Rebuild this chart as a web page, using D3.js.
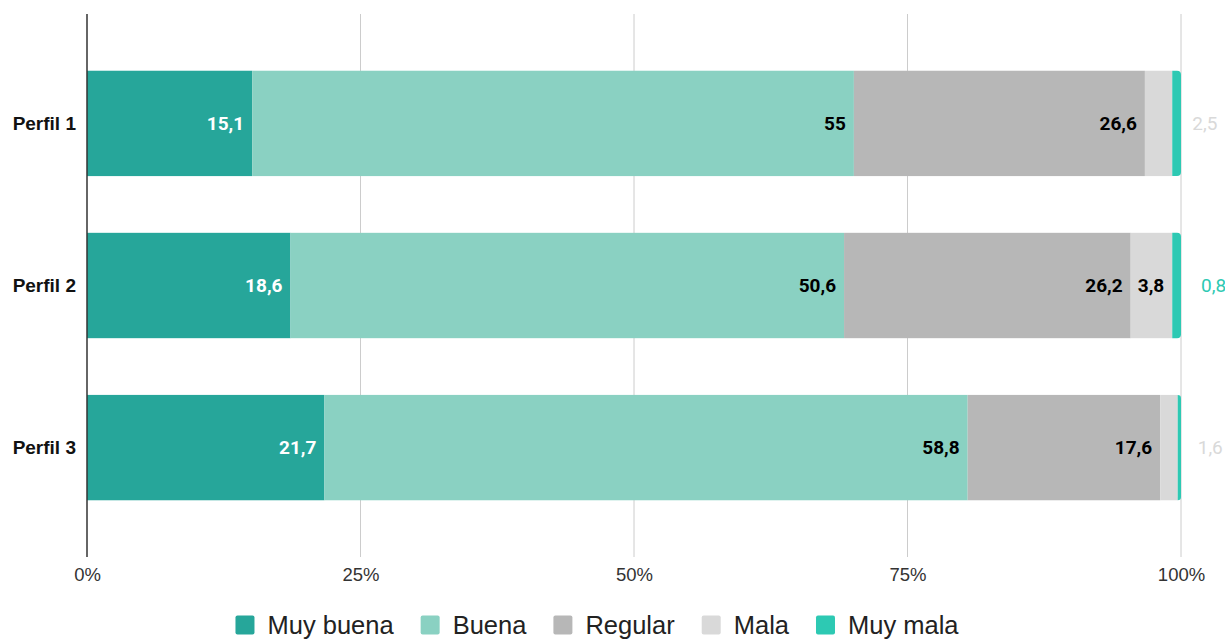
<!DOCTYPE html>
<html>
<head>
<meta charset="utf-8">
<script src="https://cdn.jsdelivr.net/npm/d3@7"></script>
<style>
  html, body { margin: 0; padding: 0; background: #fff; }
  svg { display: block; font-family: "Liberation Sans", Arial, sans-serif; }
</style>
</head>
<body>
<svg id="chart" width="1225" height="639"></svg>
<script>
// Perfiles and rating shares (%)
const categories = ["Perfil 1", "Perfil 2", "Perfil 3"];
const seriesNames = ["Muy buena", "Buena", "Regular", "Mala", "Muy mala"];
const muyBuena = [15.1, 18.6, 21.7];
const buena    = [55, 50.6, 58.8];
const regular  = [26.6, 26.2, 17.6];
const mala     = [2.5, 3.8, 1.6];
const muyMala  = [0.8, 0.8, 0.3];
const tickValues = [0, 0.25, 0.5, 0.75, 1];

const colors = ["#26a69a", "#8ad1c2", "#b7b7b7", "#d9d9d9", "#2dc9b3"];
const insideTextColors = ["#ffffff", "#000000", "#000000", "#000000", "#000000"];
const valueFont = "Roboto, sans-serif";

const seriesValues = [muyBuena, buena, regular, mala, muyMala];
const rows = categories.map((c, i) => {
  const r = { cat: c };
  seriesNames.forEach((s, k) => r[s] = seriesValues[k][i]);
  return r;
});

const svg = d3.select("#chart");
const margin = { left: 87, right: 44, top: 14, bottom: 82 };
const W = 1225, H = 639;

const x = d3.scaleLinear().domain([0, 1]).range([margin.left, W - margin.right]);
const y = d3.scaleBand().domain(categories).range([margin.top, H - margin.bottom])
  .paddingInner(0.35).paddingOuter(0.35);

// grid lines
svg.append("g").selectAll("line").data(tickValues.slice(1)).join("line")
  .attr("x1", d => x(d)).attr("x2", d => x(d))
  .attr("y1", margin.top).attr("y2", H - margin.bottom)
  .attr("stroke", "#cccccc").attr("stroke-width", 1);

// tick labels
const xAxis = d3.axisBottom(x).tickValues(tickValues).tickFormat(d3.format(".0%")).tickSize(0).tickPadding(11);
const ax = svg.append("g").attr("transform", `translate(0,${H - margin.bottom})`).call(xAxis);
ax.select(".domain").remove();
ax.selectAll("text").attr("font-size", 18.5).attr("fill", "#333").attr("font-family", "'Liberation Sans', Arial, sans-serif");

// stacked bars
const stack = d3.stack().keys(seriesNames);
const stacked = stack(rows);
const total = d => seriesNames.reduce((a, s) => a + d[s], 0);

function roundedRight(x0, y0, w, h, r) {
  r = Math.min(r, w, h / 2);
  return `M${x0},${y0}H${x0 + w - r}Q${x0 + w},${y0} ${x0 + w},${y0 + r}` +
         `V${y0 + h - r}Q${x0 + w},${y0 + h} ${x0 + w - r},${y0 + h}H${x0}Z`;
}

const barsG = svg.append("g");
stacked.forEach((layer, k) => {
  const last = k === seriesNames.length - 1;
  layer.forEach(seg => {
    const t = total(seg.data);
    const x0 = x(seg[0] / t), x1 = x(seg[1] / t);
    const y0 = y(seg.data.cat), h = y.bandwidth();
    if (last) {
      barsG.append("path").attr("d", roundedRight(x0, y0, x1 - x0, h, 4)).attr("fill", colors[k]);
    } else {
      barsG.append("rect").attr("x", x0).attr("y", y0).attr("width", x1 - x0).attr("height", h).attr("fill", colors[k]);
    }
  });
});

// value labels
const fmt = v => String(v).replace(".", ",");
const labelG = svg.append("g").attr("font-weight", "bold").attr("font-size", 19).attr("font-family", valueFont);
const measure = svg.append("text").attr("font-weight", "bold").attr("font-size", 19)
  .attr("font-family", valueFont).attr("visibility", "hidden");
categories.forEach((c, i) => {
  let outsidePlaced = false;
  stacked.forEach((layer, k) => {
    const seg = layer[i];
    const t = total(seg.data);
    const v = seg.data[seriesNames[k]];
    const x0 = x(seg[0] / t), x1 = x(seg[1] / t);
    const cy = y(c) + y.bandwidth() / 2;
    const txt = fmt(v);
    measure.text(txt);
    const tw = measure.node().getComputedTextLength();
    if (tw + 12 <= x1 - x0) {
      labelG.append("text").attr("x", x1 - 8).attr("y", cy).attr("dy", "0.35em")
        .attr("text-anchor", "end").attr("fill", insideTextColors[k]).text(txt);
    } else if (!outsidePlaced) {
      outsidePlaced = true;
      labelG.append("text").attr("x", x1 + 20).attr("y", cy).attr("dy", "0.35em")
        .attr("text-anchor", "start").attr("font-weight", "normal").attr("fill", colors[k]).text(txt);
    }
  });
});
measure.remove();

// category labels
svg.append("g").selectAll("text").data(categories).join("text")
  .attr("x", margin.left - 11).attr("y", d => y(d) + y.bandwidth() / 2).attr("dy", "0.35em")
  .attr("text-anchor", "end").attr("font-weight", "bold").attr("font-size", 19).attr("fill", "#111")
  .text(d => d);

// zero axis line
svg.append("line").attr("x1", x(0)).attr("x2", x(0)).attr("y1", margin.top).attr("y2", H - margin.bottom)
  .attr("stroke", "#333").attr("stroke-width", 1.5);

// legend, centred slightly left of the page centre
const legend = svg.append("g").attr("font-size", 25.5).attr("fill", "#222");
let cx = 0;
seriesNames.forEach((s, k) => {
  const g = legend.append("g").attr("transform", `translate(${cx},0)`);
  g.append("rect").attr("x", 0).attr("y", -9.5).attr("width", 19).attr("height", 19).attr("rx", 2).attr("fill", colors[k]);
  const t = g.append("text").attr("x", 32).attr("y", 0).attr("dy", "0.35em").text(s);
  cx += 32 + t.node().getComputedTextLength() + 27;
});
const legW = cx - 27;
legend.attr("transform", `translate(${597 - legW / 2},625)`);
</script>
</body>
</html>
